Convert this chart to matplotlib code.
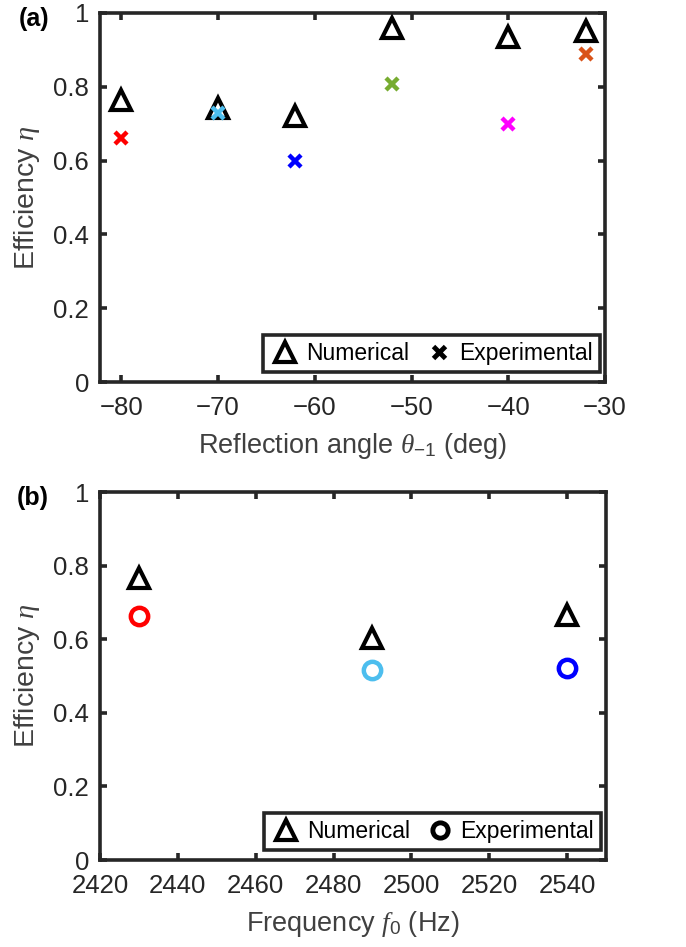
import matplotlib
matplotlib.use("Agg")
import matplotlib.pyplot as plt
from matplotlib.lines import Line2D

plt.rcParams['font.family'] = ['Liberation Sans', 'DejaVu Sans']
plt.rcParams['mathtext.fontset'] = 'custom'
plt.rcParams['mathtext.it'] = 'Liberation Serif:italic'
plt.rcParams['mathtext.rm'] = 'Liberation Sans'

# Panel (a)
angles = [-80, -70, -62, -52, -40, -32]
num_a = [0.765, 0.743, 0.72, 0.96, 0.935, 0.95]
exp_a = [0.662, 0.73, 0.60, 0.808, 0.70, 0.888]
colors_a = ['#FF0000', '#4DBEEE', '#0000FF', '#77AC30', '#FF00FF', '#D95319']

# Panel (b)
freqs = [2430, 2490, 2540]
num_b = [0.766, 0.603, 0.666]
exp_b = [0.663, 0.516, 0.522]
colors_b = ['#FF0000', '#4DBEEE', '#0000FF']

W, H = 686, 947
fig = plt.figure(figsize=(W/100, H/100), dpi=100)
TC = '#262626'

def setup(ax):
    for s in ax.spines.values():
        s.set_linewidth(2.6)
        s.set_color(TC)
    ax.tick_params(direction='in', top=True, right=True, length=5, width=2.6,
                   labelsize=18.5, colors=TC)
    ax.tick_params(axis='y', pad=8)
    ax.tick_params(axis='x', pad=10)
    ax.set_ylim(0, 1)
    ax.set_yticks([0, 0.2, 0.4, 0.6, 0.8, 1])
    ax.set_yticklabels(['0', '0.2', '0.4', '0.6', '0.8', '1'])
    ax.set_ylabel(r'Efficiency $\eta$', fontsize=20.5, color='#404040', labelpad=8)

def add_legend(ax, marker2, ms2):
    h = [Line2D([], [], ls='none', marker='^', ms=15, mfc='white', mec='black', mew=3),
         Line2D([], [], ls='none', marker=marker2, ms=ms2, mfc='white', mec='black', mew=3.5)]
    leg = ax.legend(h, ['Numerical', 'Experimental'], ncol=2, loc='lower right',
                    bbox_to_anchor=(0.99, 0.027), borderaxespad=0,
                    fontsize=16.5, frameon=True, fancybox=False, edgecolor=TC,
                    handlelength=1.3, handletextpad=0.26, columnspacing=0.65,
                    borderpad=0.3, framealpha=1)
    leg.get_frame().set_linewidth(2.6)

ax1 = fig.add_axes([100/W, 1-382/H, 505/W, 369/H])
setup(ax1)
ax1.set_xlim(-82.2, -30)
ax1.set_xticks([-80, -70, -60, -50, -40, -30])
ax1.set_xticklabels(['\u221280', '\u221270', '\u221260', '\u221250', '\u221240', '\u221230'])
ax1.plot(angles, num_a, linestyle='none', marker='^', ms=15, mfc='white', mec='black', mew=3, zorder=3)
for x, y, c in zip(angles, exp_a, colors_a):
    ax1.plot([x], [y], linestyle='none', marker='x', ms=8, mec=c, mew=3.2, zorder=4)
ax1.set_xlabel(r'Reflection angle $\theta_{-1}$ (deg)', fontsize=19.5, color='#404040', labelpad=8)
add_legend(ax1, 'x', 9)

ax2 = fig.add_axes([100/W, 1-860/H, 506/W, 368/H])
setup(ax2)
ax2.set_xlim(2420, 2550)
ax2.set_xticks([2420, 2440, 2460, 2480, 2500, 2520, 2540])
ax2.plot(freqs, num_b, linestyle='none', marker='^', ms=15, mfc='white', mec='black', mew=3, zorder=3)
for x, y, c in zip(freqs, exp_b, colors_b):
    ax2.plot([x], [y], linestyle='none', marker='o', ms=12.5, mfc='white', mec=c, mew=3.2, zorder=4)
ax2.set_xlabel(r'Frequency $f_0$ (Hz)', fontsize=19.5, color='#404040', labelpad=8)
add_legend(ax2, 'o', 11)

fig.text(19/W, 1-19/H, '(a)', fontsize=18, fontweight='bold', va='center', ha='left')
fig.text(17/W, 1-498/H, '(b)', fontsize=18, fontweight='bold', va='center', ha='left')

fig.savefig('out.png', dpi=100)
